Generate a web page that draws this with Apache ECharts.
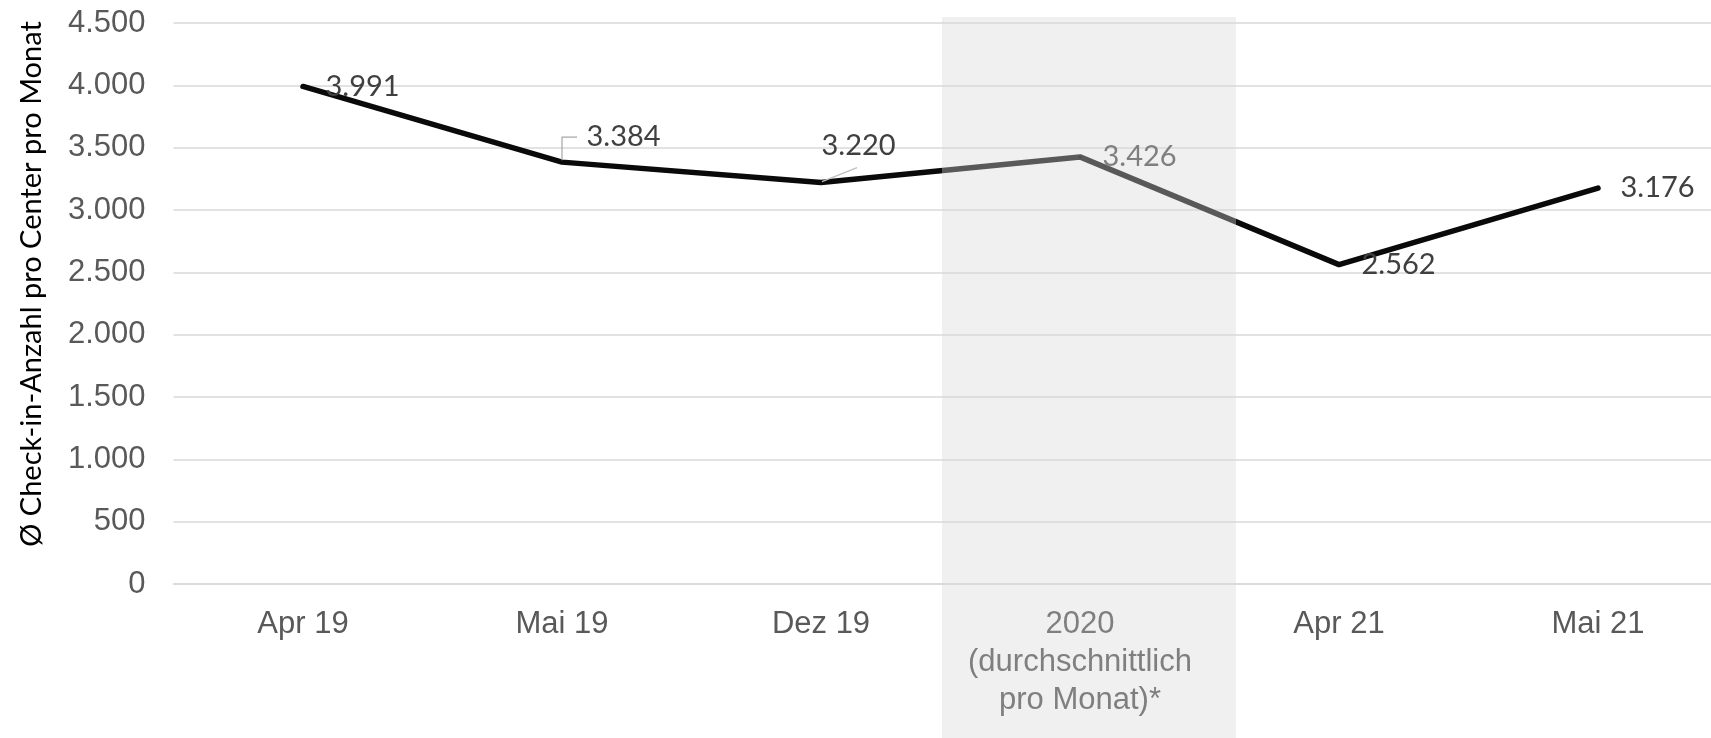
<!DOCTYPE html>
<html><head><meta charset="utf-8">
<script src="https://cdn.jsdelivr.net/npm/echarts@6/dist/echarts.min.js"></script>
<style>html,body{margin:0;padding:0;background:#fff}#c{width:1711px;height:738px}</style>
</head><body><div id="c"></div>
<script>
// ---- data ----
const categories = ['Apr 19', 'Mai 19', 'Dez 19', '2020\n(durchschnittlich\npro Monat)*', 'Apr 21', 'Mai 21'];
const checkins = [3991, 3384, 3220, 3426, 2562, 3176];
const yTicks = [0, 500, 1000, 1500, 2000, 2500, 3000, 3500, 4000, 4500];
const yAxisTitle = 'Ø Check-in-Anzahl pro Center pro Monat';
const highlightIndex = 3; // 2020 (shaded)

function de(v) { return String(v).replace(/\B(?=(\d{3})+(?!\d))/g, '.'); }

const chart = echarts.init(document.getElementById('c'), null, {renderer: 'canvas'});

const labelAdjust = {1: {offset: [2, -25]}, 2: {offset: [-22, -37]}};
const seriesData = checkins.map((v, i) => {
  const item = {value: v, label: {}};
  if (labelAdjust[i]) item.label.offset = labelAdjust[i].offset;
  if (i === highlightIndex) item.label.color = '#7f7f7f';
  return item;
});

const shadeFrom = highlightIndex - 0.533, shadeTo = highlightIndex + 0.602;

const option = {
  animation: false,
  backgroundColor: '#ffffff',
  grid: {left: 173.5, top: 23, width: 1554, height: 561, outerBoundsMode: 'none', containLabel: false},
  xAxis: {
    type: 'category', data: categories, boundaryGap: true,
    axisLine: {show: true, lineStyle: {color: '#d9d9d9', width: 1.5}},
    axisTick: {show: false},
    axisLabel: {
      interval: 0, margin: 21, fontFamily: 'Liberation Sans', fontSize: 31, lineHeight: 38,
      color: (val, idx) => idx === highlightIndex ? '#7f7f7f' : '#595959'
    }
  },
  yAxis: {
    type: 'value', min: yTicks[0], max: yTicks[yTicks.length - 1], interval: yTicks[1] - yTicks[0],
    axisLine: {show: false}, axisTick: {show: false},
    splitLine: {lineStyle: {color: '#d9d9d9', width: 1.5}},
    axisLabel: {margin: 28, fontFamily: 'Liberation Sans', fontSize: 31, color: '#595959', formatter: v => de(v)}
  },
  series: [{
    type: 'line', data: seriesData, z: 3,
    symbol: 'circle', symbolSize: 1, showSymbol: true,
    itemStyle: {color: '#0a0a0a'},
    lineStyle: {width: 5.5, color: '#0a0a0a', cap: 'round', join: 'round'},
    label: {
      show: true, position: 'right', distance: 22,
      fontFamily: 'Lato', fontSize: 29, color: '#404040',
      formatter: p => de(p.value)
    }
  }]
};
chart.setOption(option);

// annotations computed from the axes
const px = i => chart.convertToPixel({xAxisIndex: 0}, i);
const band = px(1) - px(0);
const left = px(highlightIndex) + (shadeFrom - highlightIndex) * band;
const right = px(highlightIndex) + (shadeTo - highlightIndex) * band;
const topY = chart.convertToPixel({yAxisIndex: 0}, yTicks[yTicks.length - 1]) - 6;
const p1 = chart.convertToPixel({seriesIndex: 0}, [1, checkins[1]]);
const p2 = chart.convertToPixel({seriesIndex: 0}, [2, checkins[2]]);
const W = chart.getWidth();

chart.setOption({
  series: [{
    lineStyle: {
      color: {
        type: 'linear', x: 0, y: 0, x2: W, y2: 0, global: true,
        colorStops: [
          {offset: 0, color: '#0a0a0a'},
          {offset: left / W, color: '#0a0a0a'},
          {offset: left / W, color: '#595959'},
          {offset: right / W, color: '#595959'},
          {offset: right / W, color: '#0a0a0a'},
          {offset: 1, color: '#0a0a0a'}
        ]
      }
    }
  }],
  graphic: [
    {type: 'rect', z: -10, silent: true,
     shape: {x: left, y: topY, width: right - left, height: 738 - topY},
     style: {fill: '#f0f0f0'}},
    {type: 'polyline', z: 10, silent: true,
     shape: {points: [[p1[0], p1[1] - 2], [p1[0], p1[1] - 25], [p1[0] + 15, p1[1] - 25]]},
     style: {stroke: '#a6a6a6', lineWidth: 1.2, fill: null}},
    {type: 'line', z: 10, silent: true,
     shape: {x1: p2[0] + 1, y1: p2[1] - 1, x2: p2[0] + 36, y2: p2[1] - 15},
     style: {stroke: '#bfbfbf', lineWidth: 1.2}},
    {type: 'text', z: 10, silent: true,
     x: 32, y: 284, rotation: Math.PI / 2,
     style: {text: yAxisTitle, fontFamily: 'Lato', fontSize: 29, fill: '#000000',
             align: 'center', verticalAlign: 'middle'}}
  ]
});
</script>
</body></html>
